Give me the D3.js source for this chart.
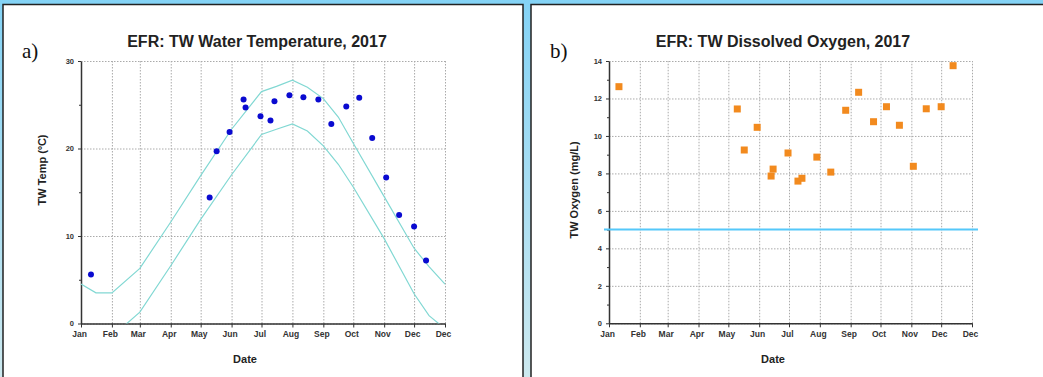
<!DOCTYPE html>
<html>
<head>
<meta charset="utf-8">
<script src="https://cdn.jsdelivr.net/npm/d3@7"></script>
<style>
  body { margin: 0; width: 1043px; height: 377px; overflow: hidden;
         background: linear-gradient(#84d3f6, #cde9ef); }
  text { font-family: "Liberation Sans", Arial, sans-serif; }
</style>
</head>
<body>
<svg id="chart" width="1043" height="377"></svg>
<script>
// Sampling dates (same for both panels)
const sampleDates = [
  "2017-01-11", "2017-05-10", "2017-05-17", "2017-05-30", "2017-06-13",
  "2017-06-15", "2017-06-30", "2017-07-10", "2017-07-14", "2017-07-29",
  "2017-08-12", "2017-08-27", "2017-09-09", "2017-09-24", "2017-10-07",
  "2017-10-20", "2017-11-03", "2017-11-16", "2017-12-01", "2017-12-13"
];

// Water temperature (ºC)
const tempValues = [
  5.6, 14.4, 19.7, 21.9, 25.6, 24.7, 23.7, 23.2, 25.4, 26.1,
  25.85, 25.6, 22.8, 24.8, 25.8, 21.2, 16.7, 12.4, 11.1, 7.2
];

// Dissolved oxygen (mg/L)
const oxygenValues = [
  12.63, 11.44, 9.25, 10.46, 7.86, 8.23, 9.09, 7.59, 7.74, 8.87,
  8.07, 11.37, 12.33, 10.76, 11.56, 10.57, 8.38, 11.45, 11.56, 13.75
];

// Temperature envelope (upper and lower curves)
const envDates = [
  "2017-01-01", "2017-01-16", "2017-02-01", "2017-03-01", "2017-04-01",
  "2017-05-01", "2017-06-01", "2017-07-01", "2017-07-16", "2017-08-01",
  "2017-08-16", "2017-09-01", "2017-09-16", "2017-10-01", "2017-11-01",
  "2017-12-01", "2017-12-16", "2018-01-01"
];
const envUpper = [4.5, 3.5, 3.5, 6.3, 11.6, 16.9, 22.2, 26.5, 27.1, 27.8,
                  27.0, 25.7, 23.6, 20.6, 14.5, 8.6, 6.5, 4.5];
const envLower = [-0.5, -1.5, -1.5, 1.3, 6.6, 11.9, 17.0, 21.6, 22.2, 22.8,
                  22.0, 20.3, 18.2, 15.6, 9.7, 3.4, 0.9, -0.6];

// Axis labels
const monthLabels = ["Jan", "Feb", "Mar", "Apr", "May", "Jun", "Jul",
                     "Aug", "Sep", "Oct", "Nov", "Dec", "Dec"];
const tempTicks = [0, 10, 20, 30];
const tempMinor = [5, 15, 25];
const oxyTicks = [0, 2, 4, 6, 8, 10, 12, 14];
const oxyMinor = [1, 3, 5, 7, 9, 11, 13];
const oxyStandard = 5;

const parse = d3.timeParse("%Y-%m-%d");
const xDomain = [parse("2017-01-01"), parse("2018-01-01")];
const monthStarts = d3.timeMonth.range(xDomain[0], d3.timeDay.offset(xDomain[1], 1));

const svg = d3.select("#chart");

// white panels with dark border
svg.append("rect").attr("x", 3).attr("y", 4.5).attr("width", 520).attr("height", 380)
  .attr("fill", "#fff").attr("stroke", "#222").attr("stroke-width", 1.5);
svg.append("rect").attr("x", 531).attr("y", 4.5).attr("width", 520).attr("height", 380)
  .attr("fill", "#fff").attr("stroke", "#222").attr("stroke-width", 1.5);

// draw one chart panel
function drawPanel(cfg) {
  const x = d3.scaleTime().domain(xDomain).range([cfg.left, cfg.right]);
  const y = d3.scaleLinear().domain(cfg.yDomain).range([cfg.bottom, cfg.top]);
  const g = svg.append("g");

  // grid
  g.append("g")
    .attr("transform", `translate(0,${cfg.bottom})`)
    .call(d3.axisBottom(x).tickValues(monthStarts).tickSize(-(cfg.bottom - cfg.top)).tickFormat(""))
    .call(s => s.select(".domain").remove())
    .call(s => s.selectAll("line").attr("stroke", "#aaa").attr("stroke-dasharray", "1.5,1.5"));
  g.append("g")
    .attr("transform", `translate(${cfg.left},0)`)
    .call(d3.axisLeft(y).tickValues(cfg.ticks).tickSize(-(cfg.right - cfg.left)).tickFormat(""))
    .call(s => s.select(".domain").remove())
    .call(s => s.selectAll("line").attr("stroke", "#aaa").attr("stroke-dasharray", "1.5,1.5"));

  // x axis
  g.append("g")
    .attr("transform", `translate(0,${cfg.bottom})`)
    .call(d3.axisBottom(x).tickValues(monthStarts).tickSize(4).tickSizeOuter(0)
      .tickFormat((d, i) => monthLabels[i]))
    .call(s => s.select(".domain").attr("stroke", "#333").attr("stroke-width", 1.5))
    .call(s => s.selectAll("line").attr("stroke", "#333"))
    .call(s => s.selectAll("text").attr("dx", -2).attr("dy", "0.75em")
      .attr("font-size", 8.5).attr("font-weight", "bold").attr("fill", "#333")
      .attr("font-family", "Liberation Sans, Arial, sans-serif"));

  // y axis, minor ticks first
  g.append("g")
    .attr("transform", `translate(${cfg.left},0)`)
    .call(d3.axisLeft(y).tickValues(cfg.minor).tickSize(2).tickFormat(""))
    .call(s => s.select(".domain").remove())
    .call(s => s.selectAll("line").attr("stroke", "#333"));
  g.append("g")
    .attr("transform", `translate(${cfg.left},0)`)
    .call(d3.axisLeft(y).tickValues(cfg.ticks).tickSize(3).tickSizeOuter(0).tickPadding(4))
    .call(s => s.select(".domain").attr("stroke", "#333").attr("stroke-width", 1.5))
    .call(s => s.selectAll("line").attr("stroke", "#333"))
    .call(s => s.selectAll("text").attr("font-size", 7.5).attr("font-weight", "bold").attr("fill", "#333")
      .attr("font-family", "Liberation Sans, Arial, sans-serif"));

  // titles
  g.append("text").attr("x", cfg.titleX).attr("y", 46.5).attr("text-anchor", "middle")
    .attr("font-size", 16).attr("font-weight", "bold").attr("fill", "#222").text(cfg.title);
  g.append("text").attr("x", cfg.tagX).attr("y", 58)
    .style("font-family", "'Liberation Serif', 'Times New Roman', serif")
    .attr("font-size", 21).attr("fill", "#111").text(cfg.tag);
  g.append("text").attr("x", cfg.dateX).attr("y", 362.5).attr("text-anchor", "middle")
    .attr("font-size", 11).attr("font-weight", "bold").attr("fill", "#222").text("Date");
  g.append("text")
    .attr("transform", `translate(${cfg.yLabelX},${cfg.yLabelY}) rotate(-90)`)
    .attr("text-anchor", "middle").attr("font-size", 11).attr("font-weight", "bold")
    .attr("fill", "#222").text(cfg.yLabel);

  return { g: g, x: x, y: y };
}

// a) water temperature
const pa = drawPanel({
  left: 81, right: 445, top: 61, bottom: 323.5, yDomain: [0, 30],
  ticks: tempTicks, minor: tempMinor,
  title: "EFR: TW Water Temperature, 2017", titleX: 257, tag: "a)", tagX: 22,
  dateX: 245, yLabel: "TW Temp (ºC)", yLabelX: 46, yLabelY: 170
});

svg.append("clipPath").attr("id", "clipA")
  .append("rect").attr("x", 81).attr("y", 61).attr("width", 364).attr("height", 262.5);

const envLine = d3.line()
  .x((d, i) => pa.x(parse(envDates[i])))
  .y(d => pa.y(d));
[envUpper, envLower].forEach(function(series) {
  pa.g.append("path")
    .attr("clip-path", "url(#clipA)")
    .attr("d", envLine(series))
    .attr("fill", "none")
    .attr("stroke", "#82d8d3")
    .attr("stroke-width", 1.2);
});

pa.g.selectAll(".dot")
  .data(tempValues)
  .join("circle")
  .attr("class", "dot")
  .attr("cx", (d, i) => pa.x(parse(sampleDates[i])))
  .attr("cy", d => pa.y(d))
  .attr("r", 3)
  .attr("fill", "#0a0ad0");

// b) dissolved oxygen
const pb = drawPanel({
  left: 609, right: 972, top: 61, bottom: 323.3, yDomain: [0, 14],
  ticks: oxyTicks, minor: oxyMinor,
  title: "EFR: TW Dissolved Oxygen, 2017", titleX: 783, tag: "b)", tagX: 550,
  dateX: 773, yLabel: "TW Oxygen (mg/L)", yLabelX: 578, yLabelY: 190
});

pb.g.append("line")
  .attr("x1", pb.x.range()[0] - 5).attr("x2", pb.x.range()[1] + 6)
  .attr("y1", pb.y(oxyStandard)).attr("y2", pb.y(oxyStandard))
  .attr("stroke", "#55c8fa").attr("stroke-width", 2);

pb.g.selectAll(".sq")
  .data(oxygenValues)
  .join("rect")
  .attr("class", "sq")
  .attr("x", (d, i) => pb.x(parse(sampleDates[i])) - 3.5)
  .attr("y", d => pb.y(d) - 3.5)
  .attr("width", 7)
  .attr("height", 7)
  .attr("fill", "#f28a1e");
</script>
</body>
</html>
